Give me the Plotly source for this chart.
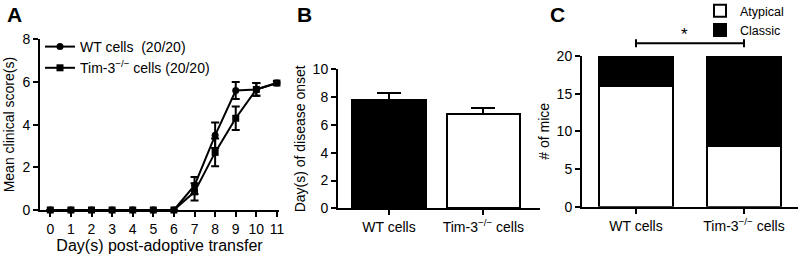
import plotly.graph_objects as go

# ---------------- data ----------------
days = list(range(12))
day_labels = [str(d) for d in days]
wt_score = [0, 0, 0, 0, 0, 0, 0, 1.15, 3.5, 5.6, 5.65, 5.95]
wt_sem = [0, 0, 0, 0, 0, 0, 0, 0.4, 0.6, 0.4, 0.3, 0.08]
tim_score = [0, 0, 0, 0, 0, 0, 0, 0.85, 2.7, 4.3, 5.65, 5.95]
tim_sem = [0, 0, 0, 0, 0, 0, 0, 0.4, 0.65, 0.55, 0.3, 0.08]

groups = ["WT cells", "Tim-3<sup>−/−</sup> cells"]
onset_mean = [7.8, 6.8]
onset_sem = [0.48, 0.45]

atypical = [16, 8]
classic = [4, 12]

legend_a = ["WT cells  (20/20)", "Tim-3<sup>−/−</sup> cells (20/20)"]
sig_label = "*"

FONT = "Arial, Liberation Sans, sans-serif"
W, H = 800, 255


def px_x(a, b):
    return [a / W, b / W]


def px_y(top, bottom):
    return [(H - bottom) / H, (H - top) / H]


fig = go.Figure()

# ---------------- panel A ----------------
fig.add_trace(go.Scatter(
    x=days, y=wt_score, name=legend_a[0], mode="lines+markers",
    line=dict(color="black", width=2), marker=dict(symbol="circle", size=7, color="black"),
    error_y=dict(type="data", array=wt_sem, color="black", thickness=2, width=4),
    xaxis="x", yaxis="y", legend="legend", cliponaxis=False))
fig.add_trace(go.Scatter(
    x=days, y=tim_score, name=legend_a[1], mode="lines+markers",
    line=dict(color="black", width=2), marker=dict(symbol="square", size=7, color="black"),
    error_y=dict(type="data", array=tim_sem, color="black", thickness=2, width=4),
    xaxis="x", yaxis="y", legend="legend", cliponaxis=False))

# ---------------- panel B ----------------
fig.add_trace(go.Bar(
    x=groups, y=onset_mean, width=0.78,
    marker=dict(color=["black", "white"], line=dict(color="black", width=2)),
    error_y=dict(type="data", symmetric=False, array=onset_sem, arrayminus=[0, 0],
                 color="black", thickness=2, width=12),
    xaxis="x2", yaxis="y2", showlegend=False))

# ---------------- panel C ----------------
fig.add_trace(go.Bar(
    x=groups, y=atypical, name="Atypical", width=0.68,
    marker=dict(color="white", line=dict(color="black", width=2)),
    xaxis="x3", yaxis="y3", legend="legend2"))
fig.add_trace(go.Bar(
    x=groups, y=classic, name="Classic", width=0.68,
    marker=dict(color="black", line=dict(color="black", width=2)),
    xaxis="x3", yaxis="y3", legend="legend2"))

axis_common = dict(showline=True, linecolor="black", linewidth=2, ticks="outside",
                   tickcolor="black", tickwidth=2, ticklen=5, showgrid=False,
                   zeroline=False, automargin=False,
                   tickfont=dict(family=FONT, size=14, color="black"))

A_dom_y = px_y(39.3, 210)
B_dom_y = px_y(69.3, 208.3)
C_dom_y = px_y(56, 206.7)
C_range_y = [0, 20]

fig.update_layout(
    width=W, height=H, margin=dict(l=0, r=0, t=0, b=0, autoexpand=False),
    paper_bgcolor="white", plot_bgcolor="white", barmode="stack",
    font=dict(family=FONT, color="black"),
    xaxis=dict(domain=px_x(40, 279), range=[-0.5, 11.1], tickvals=days, ticktext=day_labels,
               anchor="y", title=dict(text="Day(s) post-adoptive transfer", font=dict(size=16), standoff=4),
               **axis_common),
    yaxis=dict(domain=A_dom_y, range=[0, 8], dtick=2, anchor="x",
               title=dict(text="Mean clinical score(s)", font=dict(size=14), standoff=4),
               **axis_common),
    xaxis2=dict(domain=px_x(338, 540), range=[-0.54, 1.6], anchor="y2", **axis_common),
    yaxis2=dict(domain=B_dom_y, range=[0, 10], dtick=2, anchor="x2",
                title=dict(text="Day(s) of disease onset", font=dict(size=14), standoff=4),
                **axis_common),
    xaxis3=dict(domain=px_x(582, 798), range=[-0.5, 1.5], anchor="y3", **axis_common),
    yaxis3=dict(domain=C_dom_y, range=C_range_y, dtick=5, anchor="x3",
                title=dict(text="# of mice", font=dict(size=14), standoff=4),
                **axis_common),
    legend=dict(x=40 / W, y=1 - 31 / H, xanchor="left", yanchor="top", bgcolor="rgba(0,0,0,0)",
                font=dict(size=14), itemwidth=30, tracegroupgap=0, traceorder="normal"),
    legend2=dict(x=700 / W, y=1 + 4 / H, xanchor="left", yanchor="top", bgcolor="rgba(0,0,0,0)",
                 font=dict(size=12.5), itemwidth=30, traceorder="normal"),
)


def c_paper_y(v):
    return C_dom_y[0] + (v - C_range_y[0]) / (C_range_y[1] - C_range_y[0]) * (C_dom_y[1] - C_dom_y[0])


# significance bracket (panel C)
bracket_v = max(a + c for a, c in zip(atypical, classic)) * 1.085
by = c_paper_y(bracket_v)
tick_h = 4 / H
fig.add_shape(type="line", xref="x3", yref="paper", x0=0, x1=1, y0=by, y1=by,
              line=dict(color="black", width=2))
for gx in (0, 1):
    fig.add_shape(type="line", xref="x3", yref="paper", x0=gx, x1=gx,
                  y0=by - tick_h, y1=by + tick_h, line=dict(color="black", width=2))
fig.add_annotation(x=0.45, y=by, xref="x3", yref="paper", text=sig_label, showarrow=False,
                   yanchor="middle", yshift=9, font=dict(size=17, family=FONT))

# panel letters
for lbl, lx in (("A", 5), ("B", 295), ("C", 548)):
    fig.add_annotation(x=lx / W, y=1 - 1 / H, xref="paper", yref="paper", text=f"<b>{lbl}</b>",
                       showarrow=False, xanchor="left", yanchor="top",
                       font=dict(size=21, family=FONT))

fig.write_html("out.html", config={"displayModeBar": False},
               post_script="document.body.style.margin='0';")
